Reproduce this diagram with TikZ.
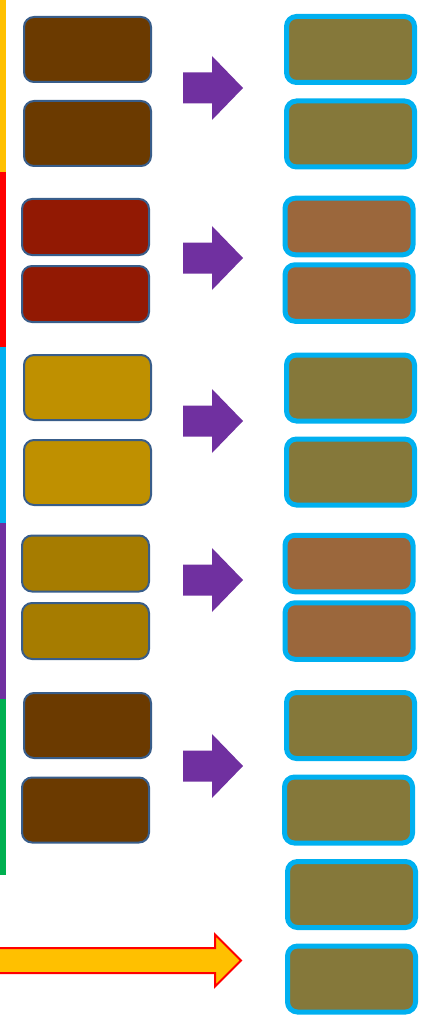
\documentclass[tikz,border=0pt]{standalone}
\usepackage{tikz}
\usetikzlibrary{calc}

\definecolor{edgeblue}{HTML}{385D8A}
\definecolor{boxcyan}{HTML}{00B0F0}
\definecolor{darkbrown}{HTML}{6B3A00}
\definecolor{darkred}{HTML}{921903}
\definecolor{gold}{HTML}{BF9000}
\definecolor{amber}{HTML}{A67C00}
\definecolor{olive}{HTML}{85783A}
\definecolor{rust}{HTML}{9B673C}
\definecolor{arrowpurple}{HTML}{7030A0}
\definecolor{arrowyellow}{HTML}{FFC000}
\definecolor{barred}{HTML}{FF0000}
\definecolor{bargreen}{HTML}{00B050}

\tikzset{
  inbox/.style={draw=edgeblue,line width=2pt,rounded corners=10pt,
    minimum width=127pt,inner sep=0pt},
  outbox/.style={draw=boxcyan,line width=5pt,rounded corners=10pt,
    minimum width=128pt,inner sep=0pt},
  tall/.style={minimum height=65pt},
  short/.style={minimum height=56pt},
  otall/.style={minimum height=66pt},
  oshort/.style={minimum height=56.5pt},
}

% purple block arrow, centred at height #1
\newcommand\steparrow[1]{%
  \fill[arrowpurple] (183,#1-15.5) -- (212,#1-15.5) -- (212,#1-32) -- (243,#1)
    -- (212,#1+32) -- (212,#1+15.5) -- (183,#1+15.5) -- cycle;}

\begin{document}
\begin{tikzpicture}[x=1pt,y=-1pt]
  \useasboundingbox (0,0) rectangle (436,1016);
  % side bar
  \fill[arrowyellow] (0,0)   rectangle (6,172);
  \fill[barred]      (0,172) rectangle (6,347);
  \fill[boxcyan]     (0,347) rectangle (6,523);
  \fill[arrowpurple] (0,523) rectangle (6,699);
  \fill[bargreen]    (0,699) rectangle (6,875);
  % left column
  \node[inbox,tall,fill=darkbrown]  (a1) at (87.5,49.5)  {};
  \node[inbox,tall,fill=darkbrown]  (a2) at (87.5,133.5) {};
  \node[inbox,short,fill=darkred]   (b1) at (85.5,227)   {};
  \node[inbox,short,fill=darkred]   (b2) at (85.5,294)   {};
  \node[inbox,tall,fill=gold]       (c1) at (87.5,387.5) {};
  \node[inbox,tall,fill=gold]       (c2) at (87.5,472.5) {};
  \node[inbox,short,fill=amber]     (d1) at (85.5,563.5) {};
  \node[inbox,short,fill=amber]     (d2) at (85.5,631)   {};
  \node[inbox,tall,fill=darkbrown]  (e1) at (87.5,725.5) {};
  \node[inbox,tall,fill=darkbrown]  (e2) at (85.5,810)   {};
  % arrows
  \steparrow{88}
  \steparrow{258}
  \steparrow{421}
  \steparrow{580}
  \steparrow{766}
  % right column
  \node[outbox,otall,fill=olive]  (p1) at (350.5,49.5)  {};
  \node[outbox,otall,fill=olive]  (p2) at (350.5,134)   {};
  \node[outbox,oshort,fill=rust]  (q1) at (349,226.5)   {};
  \node[outbox,oshort,fill=rust]  (q2) at (349,293)     {};
  \node[outbox,otall,fill=olive]  (r1) at (350.5,388)   {};
  \node[outbox,otall,fill=olive]  (r2) at (350.5,472)   {};
  \node[outbox,oshort,fill=rust]  (s1) at (349,563.5)   {};
  \node[outbox,oshort,fill=rust]  (s2) at (349,631)     {};
  \node[outbox,otall,fill=olive]  (t1) at (350.5,725.5) {};
  \node[outbox,otall,fill=olive]  (t2) at (348.5,810)   {};
  \node[outbox,otall,fill=olive]  (u1) at (351.5,894.5) {};
  \node[outbox,otall,fill=olive]  (u2) at (351.5,979)   {};
  % long yellow arrow
  \filldraw[fill=arrowyellow,draw=barred,line width=2pt,line join=miter]
    (-3,948) -- (215,948) -- (215,934.5) -- (241,960.5) -- (215,986.5)
    -- (215,973) -- (-3,973) -- cycle;
\end{tikzpicture}
\end{document}
